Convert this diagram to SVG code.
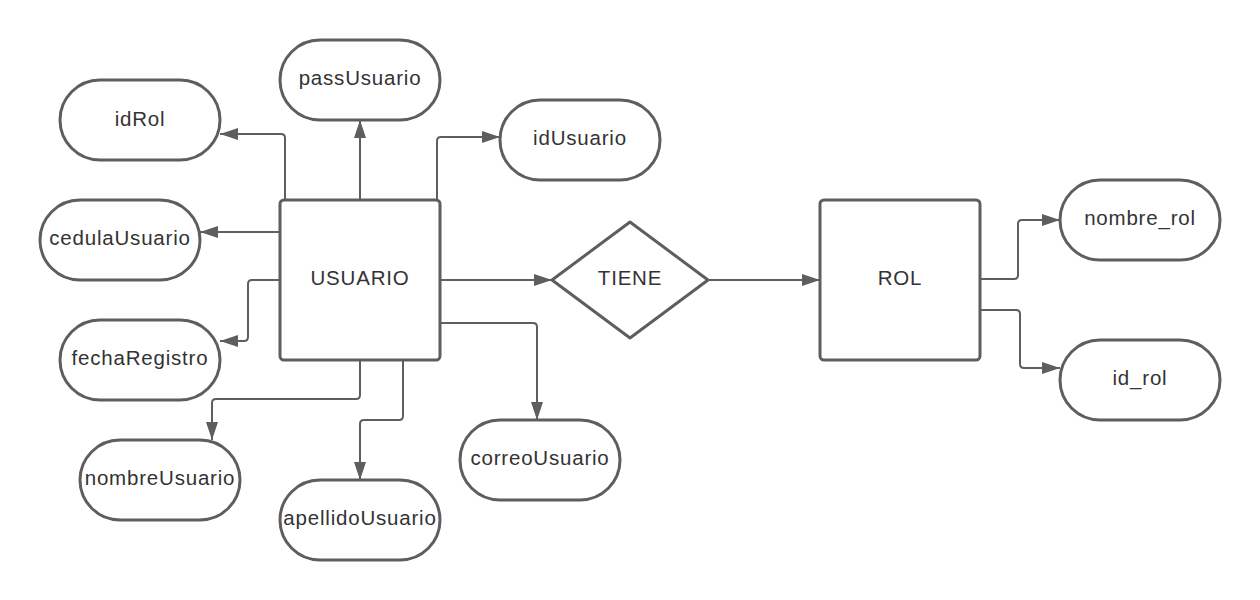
<svg xmlns="http://www.w3.org/2000/svg" width="1260" height="600" viewBox="0 0 1260 600">
<style>
.shape{fill:#ffffff;stroke:#5e5e5e;stroke-width:3;stroke-linejoin:round}
.lbl{font-family:"Liberation Sans",Arial,sans-serif;font-size:20.5px;letter-spacing:0.8px;fill:#333333;text-anchor:middle}
.conn{fill:none;stroke:#5e5e5e;stroke-width:2}
</style>
<defs>
<marker id="arr" markerUnits="userSpaceOnUse" markerWidth="18" markerHeight="12" refX="18" refY="6" orient="auto">
<path d="M0,0 L18,6 L0,12 z" fill="#5e5e5e"/>
</marker>
</defs>
<rect width="1260" height="600" fill="#ffffff"/>
<g id="connectors">
<path class="conn" marker-end="url(#arr)" d="M285,200 V138 Q285,134 281,134 H220"/>
<path class="conn" marker-end="url(#arr)" d="M360,200 V120"/>
<path class="conn" marker-end="url(#arr)" d="M437,200 V141 Q437,137 441,137 H500"/>
<path class="conn" marker-end="url(#arr)" d="M280,232 H200"/>
<path class="conn" marker-end="url(#arr)" d="M280,280 H252 Q248,280 248,284 V337 Q248,341 244,341 H220"/>
<path class="conn" marker-end="url(#arr)" d="M360,360 V395 Q360,399 356,399 H216 Q212,399 212,403 V440"/>
<path class="conn" marker-end="url(#arr)" d="M403,360 V416 Q403,420 399,420 H364 Q360,420 360,424 V480"/>
<path class="conn" marker-end="url(#arr)" d="M440,323 H533 Q537,323 537,327 V420"/>
<path class="conn" marker-end="url(#arr)" d="M440,280 H552"/>
<path class="conn" marker-end="url(#arr)" d="M708,280 H820"/>
<path class="conn" marker-end="url(#arr)" d="M980,279 H1014 Q1018,279 1018,275 V224 Q1018,220 1022,220 H1060"/>
<path class="conn" marker-end="url(#arr)" d="M980,310 H1016 Q1020,310 1020,314 V364 Q1020,368 1024,368 H1060"/>
</g>
<g id="usuario"><rect class="shape" x="280" y="200" width="160" height="160" rx="4"/><text class="lbl" x="360" y="284.5">USUARIO</text></g>
<g id="tiene"><polygon class="shape" points="630,222 708,280 630,338 552,280"/><text class="lbl" x="630" y="284.5">TIENE</text></g>
<g id="rol"><rect class="shape" x="820" y="200" width="160" height="160" rx="4"/><text class="lbl" x="900" y="284.5">ROL</text></g>
<g id="passUsuario"><rect class="shape" x="280" y="40" width="160" height="80" rx="40"/><text class="lbl" x="360" y="85">passUsuario</text></g>
<g id="idRol"><rect class="shape" x="60" y="80" width="160" height="80" rx="40"/><text class="lbl" x="140" y="125.5">idRol</text></g>
<g id="idUsuario"><rect class="shape" x="500" y="100" width="160" height="80" rx="40"/><text class="lbl" x="580" y="145">idUsuario</text></g>
<g id="cedulaUsuario"><rect class="shape" x="40" y="200" width="160" height="80" rx="40"/><text class="lbl" x="120" y="245">cedulaUsuario</text></g>
<g id="fechaRegistro"><rect class="shape" x="60" y="320" width="160" height="80" rx="40"/><text class="lbl" x="140" y="365">fechaRegistro</text></g>
<g id="nombreUsuario"><rect class="shape" x="80" y="440" width="160" height="80" rx="40"/><text class="lbl" x="160" y="485">nombreUsuario</text></g>
<g id="apellidoUsuario"><rect class="shape" x="280" y="480" width="160" height="80" rx="40"/><text class="lbl" x="360" y="525">apellidoUsuario</text></g>
<g id="correoUsuario"><rect class="shape" x="460" y="420" width="160" height="80" rx="40"/><text class="lbl" x="540" y="465">correoUsuario</text></g>
<g id="nombre_rol"><rect class="shape" x="1060" y="180" width="160" height="80" rx="40"/><text class="lbl" x="1140" y="225">nombre_rol</text></g>
<g id="id_rol"><rect class="shape" x="1060" y="340" width="160" height="80" rx="40"/><text class="lbl" x="1140" y="385">id_rol</text></g>
</svg>
